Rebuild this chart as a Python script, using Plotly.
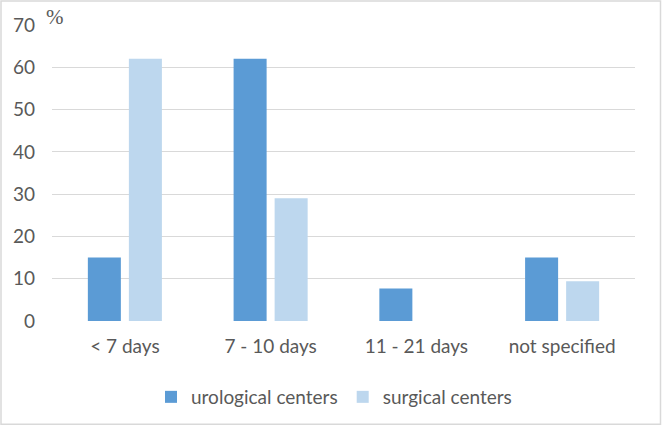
import plotly.graph_objects as go

categories = ["< 7 days", "7 - 10 days", "11 - 21 days", "not specified"]
urological = [15, 62, 7.7, 15]
surgical = [62, 29, 0, 9.4]
y_ticks = [0, 10, 20, 30, 40, 50, 60, 70]

W, H = 662, 427
L, R, T, B = 52, 27, 25, 105

fig = go.Figure()
fig.add_trace(go.Bar(x=categories, y=urological, name="urological centers",
                     marker=dict(color="#5B9BD5", line=dict(width=0))))
fig.add_trace(go.Bar(x=categories, y=surgical, name="surgical centers",
                     marker=dict(color="#BDD7EE", line=dict(width=0))))

font = dict(family="Lato, Carlito, Calibri, sans-serif", size=19, color="#595959")
pw = W - L - R
ph = H - T - B
fig.update_layout(
    width=W, height=H,
    margin=dict(l=L, r=R, t=T, b=B),
    paper_bgcolor="white", plot_bgcolor="white",
    barmode="group", bargap=0.437, bargroupgap=0.195,
    font=font,
    showlegend=True,
    legend=dict(orientation="h", x=(334 - L) / pw, xanchor="center", y=-75 / ph,
                yanchor="middle", font=font, itemwidth=30, traceorder="normal"),
    xaxis=dict(showgrid=False, showline=False, ticks="", tickfont=font,
               ticklabelstandoff=12),
    yaxis=dict(range=[0, 70], tickvals=y_ticks, showgrid=True, gridcolor="#D9D9D9",
               gridwidth=1.3, zeroline=False, showline=False, tickfont=font,
               ticklabelstandoff=16),
    shapes=[dict(type="rect", xref="paper", yref="paper",
                 x0=(-L + 1) / pw, x1=(pw + R - 1.5) / pw,
                 y0=(-B + 1.5) / ph, y1=(ph + T - 1) / ph,
                 line=dict(color="#D9D9D9", width=1.5))],
    annotations=[dict(text="%", xref="paper", yref="paper", x=(55 - L) / pw,
                      y=(ph + T - 17) / ph, xanchor="center", yanchor="middle",
                      showarrow=False,
                      font=dict(family="Liberation Serif, serif", size=21, color="#595959"))],
)
fig.write_html("out.html")
